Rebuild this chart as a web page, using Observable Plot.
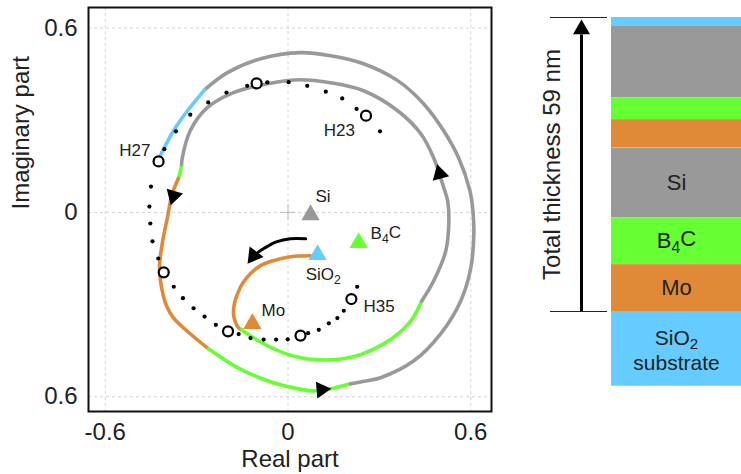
<!DOCTYPE html>
<html><head><meta charset="utf-8">
<script src="https://cdn.jsdelivr.net/npm/d3@7"></script>
<script src="https://cdn.jsdelivr.net/npm/@observablehq/plot@0.6"></script>
<style>
html,body{margin:0;padding:0;background:#fff;}
#wrap{display:flex;width:741px;height:474px;overflow:hidden;}
svg{display:block;}
</style></head><body><div id="wrap"></div>
<script>
// ---- Complex-plane trajectory segments [Re, Im], from substrate upward ----
const segMo1 = [[0.074,-0.141],[0.008,-0.144],[-0.048,-0.157],[-0.090,-0.173],[-0.123,-0.199],[-0.150,-0.232],[-0.166,-0.265],[-0.176,-0.297],[-0.179,-0.330],[-0.173,-0.356],[-0.163,-0.375],[-0.153,-0.382]];
const segB4C1 = [[-0.153,-0.382],[-0.107,-0.412],[-0.067,-0.434],[-0.015,-0.457],[0.041,-0.473],[0.107,-0.480],[0.175,-0.477],[0.238,-0.463],[0.314,-0.428],[0.370,-0.388],[0.409,-0.345],[0.439,-0.288]];
const segSi1 = [[0.439,-0.288],[0.478,-0.223],[0.518,-0.125],[0.528,-0.027],[0.524,0.038],[0.511,0.081],[0.478,0.178],[0.436,0.256],[0.360,0.331],[0.248,0.396],[0.140,0.422],[0.041,0.432],[-0.067,0.419],[-0.179,0.390],[-0.265,0.341],[-0.321,0.266],[-0.347,0.178],[-0.350,0.146]];
const segB4C2 = [[-0.350,0.146],[-0.360,0.110]];
const segMo2 = [[-0.360,0.110],[-0.380,0.061],[-0.396,-0.017],[-0.413,-0.102],[-0.422,-0.180],[-0.413,-0.255],[-0.399,-0.304],[-0.376,-0.343],[-0.321,-0.395],[-0.261,-0.444]];
const segB4C3 = [[-0.261,-0.444],[-0.166,-0.505],[-0.067,-0.548],[0.018,-0.571],[0.084,-0.581],[0.140,-0.574],[0.205,-0.558]];
const segSi2 = [[0.205,-0.558],[0.255,-0.549],[0.304,-0.538],[0.413,-0.483],[0.501,-0.395],[0.567,-0.288],[0.600,-0.181],[0.610,-0.069],[0.607,0.006],[0.597,0.071],[0.560,0.178],[0.511,0.266],[0.445,0.354],[0.360,0.429],[0.248,0.484],[0.140,0.510],[0.041,0.520],[-0.090,0.500],[-0.199,0.455],[-0.274,0.399]];
const segCap = [[-0.274,0.399],[-0.330,0.331],[-0.376,0.266],[-0.419,0.185]];
const segLayers = ["Mo","B4C","Si","B4C","Mo","B4C","Si","SiO2"];

// Harmonic dotted trajectory (small dots) and marked harmonics (open circles)
const dotPts = [[0.302,0.264],[0.225,0.337],[0.178,0.371],[0.124,0.393],[0.063,0.412],[0.002,0.424],[-0.068,0.423],[-0.134,0.412],[-0.202,0.390],[-0.262,0.358],[-0.321,0.318],[-0.368,0.264],[-0.406,0.206],[-0.450,0.084],[-0.455,0.019],[-0.452,-0.036],[-0.445,-0.094],[-0.426,-0.150],[-0.375,-0.242],[-0.345,-0.279],[-0.310,-0.312],[-0.274,-0.339],[-0.237,-0.366],[-0.162,-0.396],[-0.123,-0.409],[-0.080,-0.414],[-0.039,-0.414],[-0.001,-0.413],[0.066,-0.393],[0.101,-0.382],[0.134,-0.361],[0.162,-0.344],[0.183,-0.320],[0.227,-0.242]];
const circlePts = [[0.256,0.315],[-0.103,0.420],[-0.425,0.166],[-0.408,-0.195],[-0.197,-0.387],[0.041,-0.401],[0.208,-0.282]];
const harmonicNames = ["H23","H27","H35"];
const harmonicRe = [0.117,-0.452,0.248];
const harmonicIm = [0.266,0.201,-0.307];
const harmonicAnchor = ["start","end","start"];

// Material reference points
const matNames = ["Si","B4C","SiO2","Mo"];
const matRe = [0.074,0.232,0.097,-0.117];
const matIm = [-0.008,-0.099,-0.138,-0.362];
const matLabelRe = [0.090,0.271,0.058,-0.087];
const matLabelIm = [0.051,-0.069,-0.203,-0.320];

// Direction arrowheads on the trajectory (position, heading in degrees)
const headRe = [0.498,-0.376,0.110];
const headIm = [0.126,0.054,-0.577];
const headAngle = [345,196,85];

// Curved arrow near the centre
const bendArrow = [[0.058,-0.086],[0.008,-0.086],[-0.038,-0.096],[-0.077,-0.116],[-0.097,-0.129]];
const bendHead = [[-0.113,-0.141,217]];

// Axis ticks
const xTicks = [-0.6,0,0.6];
const xTickLabels = ["-0.6","0","0.6"];
const yTicks = [-0.6,0,0.6];
const yTickLabels = ["0.6","0","0.6"];

// ---- Layer stack (top to bottom), thickness in nm ----
const stackMaterial = ["SiO2","Si","B4C","Mo","B4C","Si","B4C","Mo","SiO2"];
const stackThickness = [1.8,14.3,4.4,5.6,0.2,13.9,9.4,9.4,15];
const stackLabel = ["","","","","","Si","B4C","Mo","SiO2"];
const totalThickness = 59;

// ---- styling ----
const color = {SiO2:"#66ccff", Si:"#999999", B4C:"#66ff33", Mo:"#e08a38"};
const FONT = "'Liberation Sans', Arial, Helvetica, sans-serif";

const segs = [segMo1,segB4C1,segSi1,segB4C2,segMo2,segB4C3,segSi2,segCap];
const lineData = segs.flatMap((s,i)=>s.map(([re,im])=>({seg:i, c:color[segLayers[i]], re, im})));
const mats = matNames.map((n,i)=>({n, re:matRe[i], im:matIm[i], lre:matLabelRe[i], lim:matLabelIm[i], c:color[n]}));
const harm = harmonicNames.map((n,i)=>({n, re:harmonicRe[i], im:harmonicIm[i], a:harmonicAnchor[i]}));
const heads = headRe.map((re,i)=>({re, im:headIm[i], a:headAngle[i]}));

function subscripts(svg){
  const map = {"B4C":["B","4","C"], "SiO2":["SiO","2",""]};
  d3.select(svg).selectAll("text").each(function(){
    if (this.querySelector("tspan")) return;
    const p = map[this.textContent];
    if (!p) return;
    const el = d3.select(this);
    el.text(null);
    el.append("tspan").text(p[0]);
    el.append("tspan").attr("dy","0.3em").attr("font-size","0.72em").text(p[1]);
    if (p[2]) el.append("tspan").attr("dy","-0.3em").text(p[2]);
  });
}

const plane = Plot.plot({
  width: 500, height: 474,
  marginLeft: 88, marginRight: 9, marginTop: 7, marginBottom: 63,
  style: {fontFamily: FONT, fontSize: "24px", color: "#222", background: "white"},
  x: {domain: [-0.655, 0.668], ticks: xTicks, tickFormat: d => xTickLabels[xTicks.indexOf(d)], tickSize: 0, tickPadding: 11, label: null},
  y: {domain: [-0.648, 0.667], ticks: yTicks, tickFormat: d => yTickLabels[yTicks.indexOf(d)], tickSize: 0, tickPadding: 11, label: null},
  color: {type: "identity"},
  marks: [
    Plot.ruleX(xTicks, {stroke: "#d4d4d4", strokeDasharray: "3,3"}),
    Plot.ruleY(yTicks, {stroke: "#d4d4d4", strokeDasharray: "3,3"}),
    Plot.ruleX([0], {y1: -0.025, y2: 0.025, stroke: "#bbb"}),
    Plot.ruleY([0], {x1: -0.025, x2: 0.025, stroke: "#bbb"}),
    Plot.line(lineData, {x: "re", y: "im", z: "seg", stroke: "c", strokeWidth: 3.6, curve: "catmull-rom"}),
    Plot.line(bendArrow, {x: d => d[0], y: d => d[1], stroke: "black", strokeWidth: 3, curve: "catmull-rom"}),
    Plot.dot(bendHead, {x: d => d[0], y: d => d[1], rotate: d => d[2], symbol: "triangle", r: 6.5, fill: "black"}),
    Plot.dot(heads, {x: "re", y: "im", rotate: "a", symbol: "triangle", r: 6.3, fill: "black"}),
    Plot.dot(dotPts, {x: d => d[0], y: d => d[1], r: 2.1, fill: "black"}),
    Plot.dot(circlePts, {x: d => d[0], y: d => d[1], r: 5, fill: "white", stroke: "black", strokeWidth: 2.2}),
    Plot.dot(mats, {x: "re", y: "im", symbol: "triangle", r: 6.8, fill: "c"}),
    Plot.text(mats, {x: "lre", y: "lim", text: "n", textAnchor: "start", fontSize: 17, fill: "#222"}),
    Plot.text(harm.filter(d => d.a === "start"), {x: "re", y: "im", text: "n", textAnchor: "start", fontSize: 17, fill: "#222"}),
    Plot.text(harm.filter(d => d.a === "end"), {x: "re", y: "im", text: "n", textAnchor: "end", fontSize: 17, fill: "#222"}),
    Plot.text(["Imaginary part"], {frameAnchor: "left", dx: -67, rotate: -90, lineAnchor: "middle", fontSize: 24, fill: "#222"}),
    Plot.text(["Real part"], {frameAnchor: "bottom", dy: 48, lineAnchor: "middle", fontSize: 24, fill: "#222"}),
    Plot.frame({stroke: "#111", strokeWidth: 2})
  ]
});
subscripts(plane);

// Stack layout
let acc = 0;
const layers = stackMaterial.map((m,i)=>{ const top = acc; acc += stackThickness[i]; return {m, top, bottom: acc, label: stackLabel[i], c: color[m]}; });
const labelled = layers.filter(d => d.label);
const sub = layers[layers.length-1];

const stack = Plot.plot({
  width: 241, height: 474,
  margin: 0,
  style: {fontFamily: FONT, fontSize: "22px", color: "#222", background: "white"},
  x: {domain: [0, 241], range: [0, 241], axis: null},
  y: {domain: [0, totalThickness], range: [17, 311], axis: null},
  color: {type: "identity"},
  marks: [
    Plot.rectY(layers, {x1: 111, x2: 241, y1: "top", y2: "bottom", fill: "c"}),
    Plot.text(labelled.filter(d => d !== sub), {x: 176, y: d => (d.top + d.bottom)/2, text: "label", fontSize: 22, fill: "#222"}),
    Plot.text([sub], {x: 176, y: d => (d.top + d.bottom)/2, text: "label", dy: -11, fontSize: 21, fill: "#222"}),
    Plot.text([sub], {x: 176, y: d => (d.top + d.bottom)/2, text: () => "substrate", dy: 14, fontSize: 21, fill: "#222"}),
    Plot.ruleY([0, totalThickness], {x1: 50, x2: 107, stroke: "#222", strokeWidth: 1}),
    Plot.ruleX([81], {y1: totalThickness, y2: 3.5, stroke: "black", strokeWidth: 3}),
    Plot.dot([0], {x: 81, y: 2.37, symbol: "triangle", r: 6.3, fill: "black"}),
    Plot.text([`Total thickness ${totalThickness} nm`], {x: 52, y: totalThickness/2, rotate: -90, fontSize: 24, fill: "#222"})
  ]
});
subscripts(stack);

const wrap = document.getElementById("wrap");
wrap.appendChild(plane);
wrap.appendChild(stack);
</script>
</body></html>
